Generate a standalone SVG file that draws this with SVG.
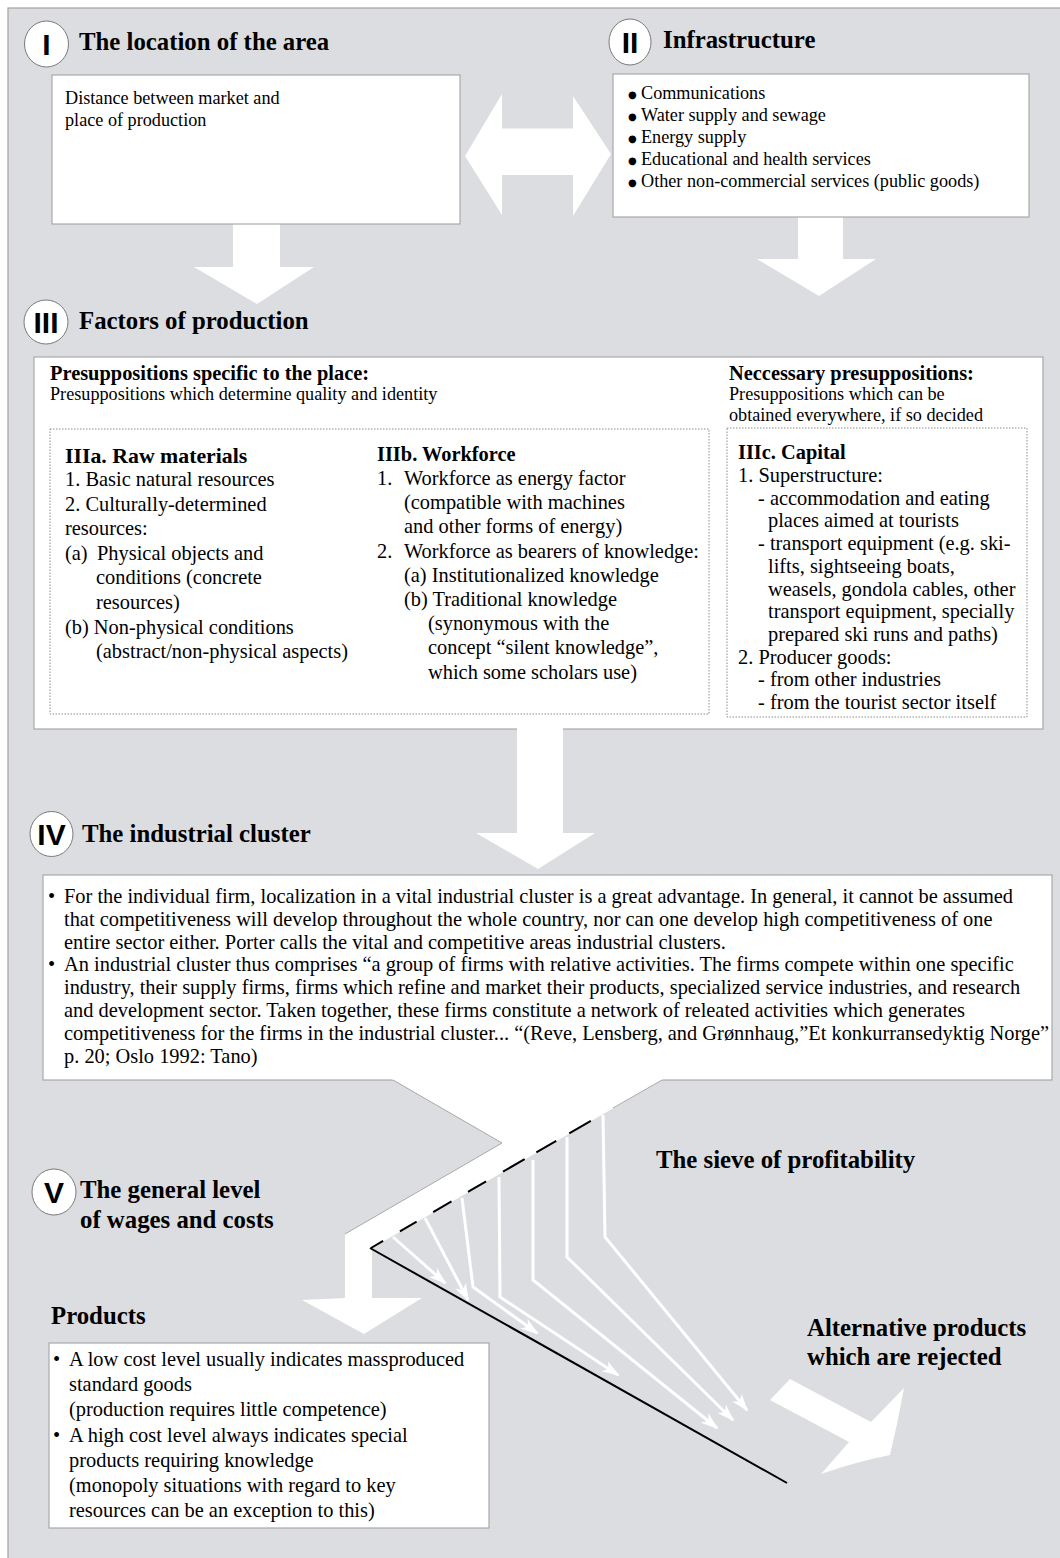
<svg xmlns="http://www.w3.org/2000/svg" width="1060" height="1558" viewBox="0 0 1060 1558">
<style>
.bg{fill:#dcdde0;stroke:#a3a3a3;stroke-width:1.2}
.box{fill:#fff;stroke:#a9a9a9;stroke-width:1.2}
.dot{fill:none;stroke:#8a8a8a;stroke-width:1;stroke-dasharray:1.5 1.5}
.circ{fill:#fff;stroke:#7a7a7a;stroke-width:1}
.num{font-family:"Liberation Sans",Arial,sans-serif;font-weight:bold;font-size:30px;text-anchor:middle;fill:#000}
.ttl{font-family:"Liberation Serif","Times New Roman",serif;font-weight:bold;font-size:24.8px;fill:#000}
.t18{font-family:"Liberation Serif","Times New Roman",serif;font-size:18.2px;fill:#000}
.t20{font-family:"Liberation Serif","Times New Roman",serif;font-size:20.4px;fill:#000}
.b20{font-family:"Liberation Serif","Times New Roman",serif;font-weight:bold;font-size:20.4px;fill:#000}
.bul{font-family:"DejaVu Sans",sans-serif;font-size:10px;fill:#000}
.wa{fill:#fff;stroke:none}
.edge{fill:none;stroke:#a9a9a9;stroke-width:1}
.sv{fill:none;stroke:#fff;stroke-width:3;marker-end:url(#wh)}
</style>
<defs>
<marker id="wh" viewBox="0 0 18 12" refX="16" refY="6" markerWidth="18" markerHeight="12" markerUnits="userSpaceOnUse" orient="auto">
<path d="M0,0 L18,6 L0,12 L5,6 Z" fill="#fff"/>
</marker>
</defs>
<rect class="bg" x="8" y="8" width="1070" height="1570"/>

<g id="connectors">
<path class="wa" d="M465,156 L502,94 L502,128.5 L573,128.5 L573,96 L611,154 L573,216 L573,175 L502,175 L502,215 Z"/>
<path class="wa" d="M233,223 L280,223 L280,267 L314,267 L257,304 L194,267 L233,267 Z"/>
<path class="wa" d="M798,216 L843,216 L843,259 L876,259 L819,296 L757,259 L798,259 Z"/>
</g>

<g id="node-I">
<ellipse class="circ" cx="46.5" cy="44" rx="22" ry="23"/>
<text class="num" x="46.5" y="55">I</text>
<text class="ttl" x="79" y="50">The location of the area</text>
<rect class="box" x="52" y="75" width="408" height="149"/>
<text class="t18" x="65" y="104">Distance between market and</text>
<text class="t18" x="65" y="126">place of production</text>
</g>

<g id="node-II">
<ellipse class="circ" cx="630" cy="42" rx="21" ry="23"/>
<text class="num" x="630" y="53">II</text>
<text class="ttl" x="663" y="48">Infrastructure</text>
<rect class="box" x="613" y="74" width="416" height="143"/>
<text class="bul" x="628" y="98">●</text><text class="t18" x="641" y="99">Communications</text>
<text class="bul" x="628" y="120">●</text><text class="t18" x="641" y="121">Water supply and sewage</text>
<text class="bul" x="628" y="142">●</text><text class="t18" x="641" y="143">Energy supply</text>
<text class="bul" x="628" y="164">●</text><text class="t18" x="641" y="165">Educational and health services</text>
<text class="bul" x="628" y="186">●</text><text class="t18" x="641" y="187">Other non-commercial services (public goods)</text>
</g>

<g id="node-III">
<ellipse class="circ" cx="46" cy="322" rx="22" ry="22"/>
<text class="num" x="46" y="333">III</text>
<text class="ttl" x="79" y="329">Factors of production</text>
<rect class="box" x="34" y="357" width="1009" height="372"/>
<text class="b20" x="50" y="380">Presuppositions specific to the place:</text>
<text class="t18" x="50" y="400">Presuppositions which determine quality and identity</text>
<text class="b20" x="729" y="380">Neccessary presuppositions:</text>
<text class="t18" x="729" y="400">Presuppositions which can be</text>
<text class="t18" x="729" y="421">obtained everywhere, if so decided</text>
</g>

<g id="node-IIIab">
<rect class="dot" x="50" y="429" width="659" height="285"/>
<text class="b20" x="65" y="463" style="font-size:21.8px">IIIa. Raw materials</text>
<text class="t20" x="65" y="486">1. Basic natural resources</text>
<text class="t20" x="65" y="510.6">2. Culturally-determined</text>
<text class="t20" x="65" y="535.2">resources:</text>
<text class="t20" x="65" y="559.8">(a)</text><text class="t20" x="97" y="559.8">Physical objects and</text>
<text class="t20" x="96" y="584.4">conditions (concrete</text>
<text class="t20" x="96" y="609">resources)</text>
<text class="t20" x="65" y="633.6">(b) Non-physical conditions</text>
<text class="t20" x="96" y="658.2">(abstract/non-physical aspects)</text>
<text class="b20" x="377" y="461">IIIb. Workforce</text>
<text class="t20" x="377" y="485">1.</text><text class="t20" x="404" y="485">Workforce as energy factor</text>
<text class="t20" x="404" y="509.2">(compatible with machines</text>
<text class="t20" x="404" y="533.4">and other forms of energy)</text>
<text class="t20" x="377" y="557.6">2.</text><text class="t20" x="404" y="557.6">Workforce as bearers of knowledge:</text>
<text class="t20" x="404" y="581.8">(a) Institutionalized knowledge</text>
<text class="t20" x="404" y="606">(b) Traditional knowledge</text>
<text class="t20" x="428" y="630.2">(synonymous with the</text>
<text class="t20" x="428" y="654.4">concept “silent knowledge”,</text>
<text class="t20" x="428" y="678.6">which some scholars use)</text>
</g>

<g id="node-IIIc">
<rect class="dot" x="727" y="428" width="300" height="289"/>
<text class="b20" x="738" y="459">IIIc. Capital</text>
<text class="t20" x="738" y="482">1. Superstructure:</text>
<text class="t20" x="758" y="504.7">- accommodation and eating</text>
<text class="t20" x="768" y="527.4">places aimed at tourists</text>
<text class="t20" x="758" y="550.1">- transport equipment (e.g. ski-</text>
<text class="t20" x="768" y="572.8">lifts, sightseeing boats,</text>
<text class="t20" x="768" y="595.5">weasels, gondola cables, other</text>
<text class="t20" x="768" y="618.2">transport equipment, specially</text>
<text class="t20" x="768" y="640.9">prepared ski runs and paths)</text>
<text class="t20" x="738" y="663.6">2. Producer goods:</text>
<text class="t20" x="758" y="686.3">- from other industries</text>
<text class="t20" x="758" y="709">- from the tourist sector itself</text>
</g>

<g id="connectors-2">
<path class="wa" d="M517,728 L563,728 L563,833 L595,833 L538,869 L476,833 L517,833 Z"/>
</g>

<g id="node-IV">
<ellipse class="circ" cx="51.5" cy="834" rx="21.5" ry="22.5"/>
<text class="num" x="51.5" y="845">IV</text>
<text class="ttl" x="82" y="842">The industrial cluster</text>
<rect class="box" x="43" y="875" width="1009" height="205"/>
<text class="t20" x="48" y="903">•</text><text class="t20" x="64" y="903">For the individual firm, localization in a vital industrial cluster is a great advantage. In general, it cannot be assumed</text>
<text class="t20" x="64" y="925.8">that competitiveness will develop throughout the whole country, nor can one develop high competitiveness of one</text>
<text class="t20" x="64" y="948.6">entire sector either. Porter calls the vital and competitive areas industrial clusters.</text>
<text class="t20" x="48" y="971.4">•</text><text class="t20" x="64" y="971.4">An industrial cluster thus comprises “a group of firms with relative activities. The firms compete within one specific</text>
<text class="t20" x="64" y="994.2">industry, their supply firms, firms which refine and market their products, specialized service industries, and research</text>
<text class="t20" x="64" y="1017">and development sector. Taken together, these firms constitute a network of releated activities which generates</text>
<text class="t20" x="64" y="1039.8">competitiveness for the firms in the industrial cluster... “(Reve, Lensberg, and Grønnhaug,”Et konkurransedyktig Norge”</text>
<text class="t20" x="64" y="1062.6">p. 20; Oslo 1992: Tano)</text>
</g>

<g id="sieve">
<path class="wa" d="M391,1078 L393,1080 L502,1143 L345,1234 L345,1298 L302,1300 L364,1334 L422,1298 L372,1298 L372,1248 L662,1080 L664,1078 Z"/>
<polyline class="edge" points="393,1080 502,1143 345,1234"/>
<line class="edge" x1="662" y1="1080" x2="613" y2="1108"/>
<line x1="371" y1="1248" x2="613" y2="1108" stroke="#000" stroke-width="2" stroke-dasharray="14 19.4 19.3 19.1 21.2 19 21 19.5 25 13.5 23 15 25 200"/>
<line x1="370" y1="1248" x2="787" y2="1483" stroke="#000" stroke-width="2"/>
<polyline class="sv" points="393,1237 445,1283"/>
<polyline class="sv" points="425,1218 468,1300"/>
<polyline class="sv" points="462,1198 473,1287 537,1333"/>
<polyline class="sv" points="499,1177 500,1297 618,1375"/>
<polyline class="sv" points="533,1160 533,1280 717,1428"/>
<polyline class="sv" points="567,1137 567,1257 733,1420"/>
<polyline class="sv" points="603,1115 605,1237 747,1410"/>
<text class="ttl" x="656" y="1168">The sieve of profitability</text>
<path class="wa" d="M790,1379 L871,1422 L904,1388 Q898,1422 890,1455 Q855,1462 821,1474 L849,1442 L770,1400 Z"/>
<text class="ttl" x="807" y="1336">Alternative products</text>
<text class="ttl" x="807" y="1365">which are rejected</text>
</g>

<g id="node-V">
<ellipse class="circ" cx="54" cy="1192" rx="22" ry="23"/>
<text class="num" x="54" y="1203">V</text>
<text class="ttl" x="80" y="1198">The general level</text>
<text class="ttl" x="80" y="1228">of wages and costs</text>
</g>

<g id="node-products">
<text class="ttl" x="51" y="1324">Products</text>
<rect class="box" x="49" y="1343" width="440" height="185"/>
<text class="t20" x="53" y="1366">•</text><text class="t20" x="69" y="1366">A low cost level usually indicates massproduced</text>
<text class="t20" x="69" y="1391.2">standard goods</text>
<text class="t20" x="69" y="1416.4">(production requires little competence)</text>
<text class="t20" x="53" y="1441.6">•</text><text class="t20" x="69" y="1441.6">A high cost level always indicates special</text>
<text class="t20" x="69" y="1466.8">products requiring knowledge</text>
<text class="t20" x="69" y="1492">(monopoly situations with regard to key</text>
<text class="t20" x="69" y="1517.2">resources can be an exception to this)</text>
</g>
</svg>
